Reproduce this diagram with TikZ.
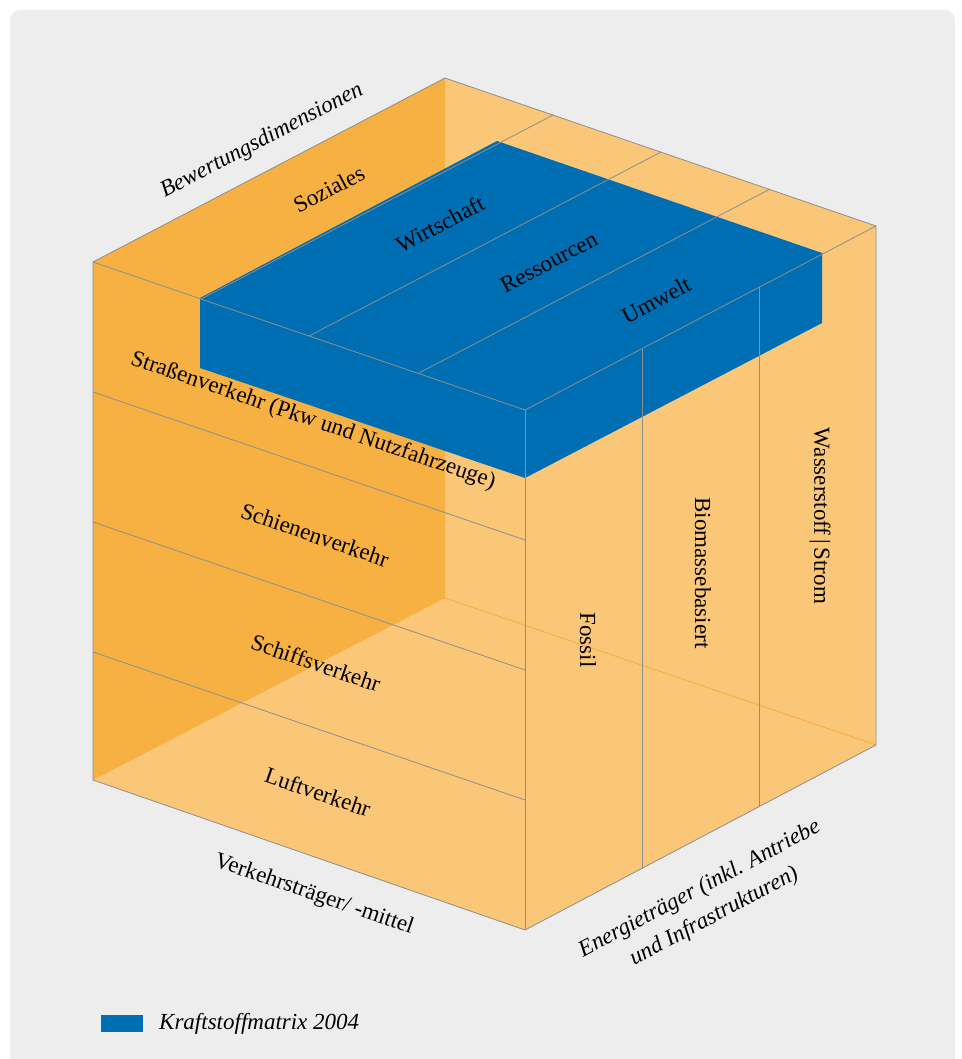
\documentclass[tikz,border=0pt]{standalone}
\usepackage{fontspec}
\setmainfont{Liberation Serif}
\definecolor{bggray}{HTML}{ECEDEC}
\definecolor{orangelight}{HTML}{FAC677}
\definecolor{orangedark}{HTML}{F6B142}
\definecolor{orangeline}{HTML}{F5AE3A}
\definecolor{kblue}{HTML}{006EB3}
\definecolor{linegray}{HTML}{8E8E8E}
\tikzset{
  gridline/.style={draw=linegray, line width=0.8pt},
  facetext/.style={font=\fontsize{23}{27}\selectfont, inner sep=0pt},
  axistext/.style={font=\fontsize{23}{31}\selectfont\itshape, inner sep=0pt},
}
\begin{document}
\begin{tikzpicture}[x=1pt, y=-1pt]
\useasboundingbox (0,0) rectangle (961,1059);
\fill[bggray, rounded corners=10pt] (10,10) rectangle (955,1090); % panel

\fill[orangelight] (93,262) -- (445,78) -- (876,226) -- (876,745) -- (525,930) -- (93,780) -- cycle; % cube
\fill[orangedark] (93,262) -- (445,78) -- (445,598) -- (93,780) -- cycle; % back left face
\draw[orangeline, line width=0.8pt] (445,598) -- (876,745); % bottom back edge
\fill[kblue] (200,298) -- (497,141) -- (822,253) -- (822,323) -- (525,478) -- (200,368) -- cycle; % Kraftstoffmatrix

\draw[gridline] (93,392) -- (525,540); % row.1
\draw[gridline] (93,522) -- (525,670); % row.2
\draw[gridline] (93,652) -- (525,800); % row.3
\draw[gridline] (642,349) -- (642,868); % column.1
\draw[gridline] (759,287) -- (759,806); % column.2
\draw[gridline] (201,299) -- (553,115); % dimension.1
\draw[gridline] (309,336) -- (661,152); % dimension.2
\draw[gridline] (419,373) -- (770,189); % dimension.3
\draw[gridline] (93,262) -- (445,78) -- (876,226) -- (876,745) -- (525,930) -- (93,780) -- cycle; % outline
\draw[gridline] (93,262) -- (525,410) -- (876,226); % top front edges
\draw[gridline] (525,410) -- (525,930); % front edge

\node[axistext, rotate=27.6] (bewertung) at (262,141) {Bewertungsdimensionen};
\node[facetext, rotate=27.6] (soziales) at (329,189) {Soziales};
\node[facetext, rotate=27.6] (wirtschaft) at (440,224) {Wirtschaft};
\node[facetext, rotate=27.6] (ressourcen) at (549,262) {Ressourcen};
\node[facetext, rotate=27.6] (umwelt) at (656,300) {Umwelt};

\node[facetext, rotate=-18.9] (strasse) at (313,421) {Straßenverkehr (Pkw und Nutzfahrzeuge)};
\node[facetext, rotate=-18.9] (schiene) at (315,535) {Schienenverkehr};
\node[facetext, rotate=-18.9] (schiff) at (316,663) {Schiffsverkehr};
\node[facetext, rotate=-18.9] (luft) at (318,792) {Luftverkehr};
\node[facetext, rotate=-18.9] (verkehr) at (314,895) {Verkehrsträger/ -mittel};

\node[facetext, rotate=-90] (fossil) at (588,640) {Fossil};
\node[facetext, rotate=-90] (biomasse) at (703,573) {Biomassebasiert};
\node[facetext, rotate=-90] (wasserstoff) at (820,516) {Wasserstoff\,|\,Strom};
\node[axistext, rotate=28, align=center] (energie) at (707,903) {Energieträger (inkl. Antriebe\\und Infrastrukturen)};

\fill[kblue] (101,1015) rectangle (143,1032); % legend box
\node[axistext, anchor=west] (legende) at (159,1024) {Kraftstoffmatrix 2004};
\end{tikzpicture}
\end{document}
